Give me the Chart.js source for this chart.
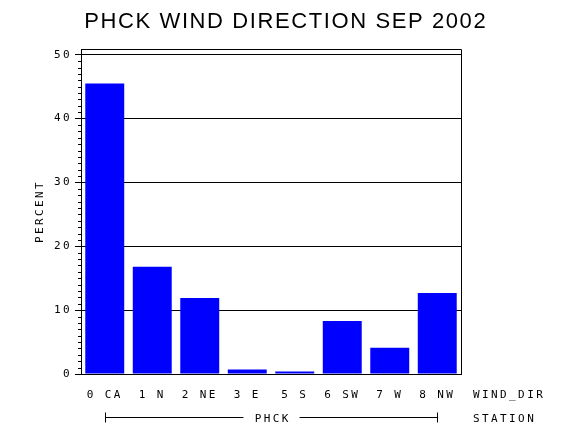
<!DOCTYPE html>
<html>
<head>
<meta charset="utf-8">
<script src="https://cdn.jsdelivr.net/npm/chart.js@4/dist/chart.umd.min.js"></script>
<style>
  html, body { margin: 0; padding: 0; background: #fff; }
</style>
</head>
<body>
<canvas id="windCanvas" width="570" height="430"></canvas>
<script>
// values
const categories = ["0 CA", "1 N", "2 NE", "3 E", "5 S", "6 SW", "7 W", "8 NW"];
const percents = [45.5, 16.8, 11.9, 0.7, 0.4, 8.3, 4.1, 12.7];
const yTicks = [0, 10, 20, 30, 40, 50];
const station = "PHCK";
const chartTitle = "PHCK WIND DIRECTION SEP 2002";

const labelFont = "'DejaVu Sans Mono', monospace";

// letter spacing, minor ticks, frame, title and the station bracket
const sasLook = {
    id: 'sasLook',
    beforeDraw: function (chart) {
        chart.ctx.letterSpacing = '2.4px';
    },
    afterDraw: function (chart) {
        const ctx = chart.ctx;
        const area = chart.chartArea;
        const x = chart.scales.x;
        const y = chart.scales.y;

        ctx.save();
        ctx.strokeStyle = '#000';
        ctx.lineWidth = 1;

        // frame top and right
        ctx.beginPath();
        ctx.moveTo(area.left, area.top + 0.5);
        ctx.lineTo(area.right + 0.5, area.top + 0.5);
        ctx.lineTo(area.right + 0.5, area.bottom);
        ctx.stroke();

        // minor ticks every 1 unit
        ctx.beginPath();
        for (let v = 1; v < y.max; v++) {
            if (v % 10 === 0) continue;
            const py = Math.round(y.getPixelForValue(v)) + 0.5;
            ctx.moveTo(area.left - 3, py);
            ctx.lineTo(area.left, py);
        }
        ctx.stroke();

        // right side axis names
        ctx.fillStyle = '#000';
        ctx.font = '11px ' + labelFont;
        ctx.textAlign = 'left';
        ctx.textBaseline = 'middle';
        ctx.fillText('WIND_DIR', area.right + 12, 395);
        ctx.fillText('STATION', area.right + 12, 419.5);

        // station bracket
        const x0 = Math.round(x.getPixelForValue(0)) + 0.5;
        const x1 = Math.round(x.getPixelForValue(categories.length - 1)) + 0.5;
        const mid = (x0 + x1) / 2;
        const half = ctx.measureText(station).width / 2 + 10;
        const ly = 417.5;
        ctx.beginPath();
        ctx.moveTo(x0, ly - 5);
        ctx.lineTo(x0, ly + 5);
        ctx.moveTo(x0, ly);
        ctx.lineTo(mid - half, ly);
        ctx.moveTo(mid + half, ly);
        ctx.lineTo(x1, ly);
        ctx.moveTo(x1, ly - 5);
        ctx.lineTo(x1, ly + 5);
        ctx.stroke();
        ctx.textAlign = 'center';
        ctx.fillText(station, mid + 1.2, 419.5);

        // title
        ctx.letterSpacing = '1.6px';
        ctx.font = "22px 'Liberation Sans', Arial, sans-serif";
        ctx.textBaseline = 'alphabetic';
        ctx.fillText(chartTitle, chart.width / 2 + 0.8, 28);
        ctx.restore();
    }
};

const ctx = document.getElementById("windCanvas");

const windChart = new Chart(ctx, {
    type: 'bar',
    data: {
        labels: categories,
        datasets: [{
            data: percents,
            backgroundColor: "#0000FF",
            borderWidth: 0,
            categoryPercentage: 1,
            barPercentage: 0.82
        }]
    },
    options: {
        responsive: false,
        animation: false,
        devicePixelRatio: 1,
        layout: {
            padding: { top: 49, right: 109, left: 0, bottom: 0 }
        },
        plugins: {
            legend: { display: false },
            title: { display: false },
            tooltip: { enabled: false }
        },
        scales: {
            x: {
                afterFit: function (scale) { scale.height = 56; },
                grid: { display: false, drawTicks: false },
                border: { display: true, color: '#000', width: 1 },
                ticks: {
                    color: '#000',
                    font: { family: labelFont, size: 11 },
                    padding: 15,
                    maxRotation: 0,
                    autoSkip: false
                }
            },
            y: {
                min: 0,
                max: 50.9,
                afterFit: function (scale) { scale.width = 81; },
                afterBuildTicks: function (scale) {
                    scale.ticks = yTicks.map(function (v) { return { value: v }; });
                },
                grid: { color: '#000', lineWidth: 1, tickLength: 6, drawTicks: true },
                border: { display: true, color: '#000', width: 1 },
                ticks: {
                    color: '#000',
                    font: { family: labelFont, size: 11 },
                    padding: 3
                },
                title: {
                    display: true,
                    text: 'PERCENT',
                    color: '#000',
                    font: { family: labelFont, size: 11 },
                    padding: { top: 34, bottom: 0 }
                }
            }
        }
    },
    plugins: [sasLook]
});
</script>
</body>
</html>
